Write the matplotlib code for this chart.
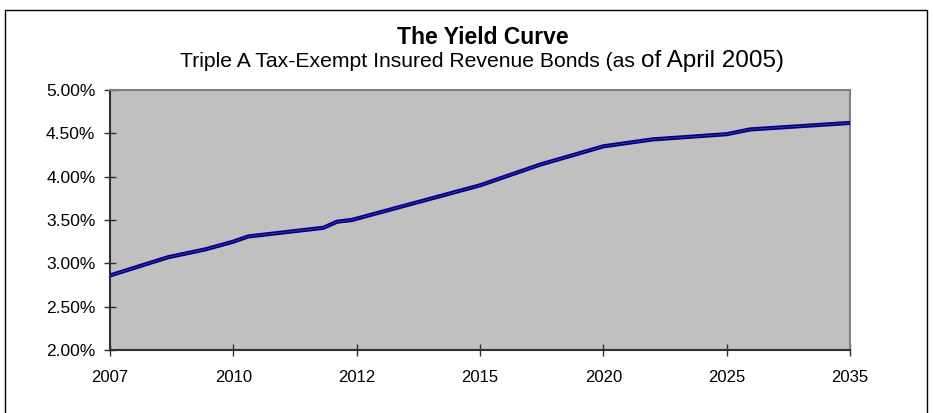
import matplotlib
matplotlib.use("Agg")
import matplotlib.pyplot as plt
from matplotlib.patches import Rectangle
from matplotlib.ticker import FuncFormatter

plt.rcParams['font.family'] = ['Liberation Sans', 'DejaVu Sans']

# Category labels on the x axis
categories = ["2007", "2010", "2012", "2015", "2020", "2025", "2035"]
# Curve points: position along the category axis (category index) and yield (%)
curve_pos = [0.0, 0.47, 0.77, 1.0, 1.12, 1.73, 1.84, 1.96, 3.0, 3.49, 4.0, 4.40, 5.0, 5.19, 6.0]
curve_yield = [2.86, 3.07, 3.16, 3.25, 3.31, 3.41, 3.48, 3.50, 3.90, 4.14, 4.35, 4.43, 4.49, 4.545, 4.62]
y_ticks = [2.0, 2.5, 3.0, 3.5, 4.0, 4.5, 5.0]

title = "The Yield Curve"
subtitle_a = "Triple A Tax-Exempt Insured Revenue Bonds (as "
subtitle_b = "of April 2005)"

W, H = 933, 413
fig = plt.figure(figsize=(W / 100, H / 100), dpi=100)
fig.patch.set_facecolor('white')

# outer chart border
fig.patches.append(Rectangle((5 / W, -0.05), 922 / W, (H - 10) / H + 0.05, transform=fig.transFigure,
                             fill=False, edgecolor='black', linewidth=1.0))

left, right, top, bottom = 110, 850, 90, 350
ax = fig.add_axes([left / W, 1 - bottom / H, (right - left) / W, (bottom - top) / H])
ax.set_facecolor('#C0C0C0')

ax.plot(curve_pos, curve_yield, color='#000080', linewidth=3.0, solid_joinstyle='round',
        solid_capstyle='butt', zorder=3)
ax.plot(curve_pos, curve_yield, color='#3a3aa8', linewidth=0.6, zorder=4)

ax.set_xlim(0, len(categories) - 1)
ax.set_ylim(2.0, 5.0)
ax.set_xticks(range(len(categories)))
ax.set_xticklabels(categories)
ax.set_yticks(y_ticks)
ax.yaxis.set_major_formatter(FuncFormatter(lambda v, p: f"{v:.2f}%"))

for s in ['top', 'right']:
    ax.spines[s].set_color('#808080')
    ax.spines[s].set_linewidth(1.5)
for s in ['left', 'bottom']:
    ax.spines[s].set_color('#303030')
    ax.spines[s].set_linewidth(1.5)

ax.tick_params(axis='y', direction='inout', length=9, width=1, color='#303030',
               labelsize=12.5, pad=6)
ax.tick_params(axis='x', direction='inout', length=9, width=1, color='#303030',
               labelsize=12, pad=10)

fig.text(483 / W, 1 - 38 / H, title, ha='center', va='center', fontsize=16.5, fontweight='bold')

# subtitle drawn in two runs (the date part is set in a larger size)
ta = fig.text(0, 0, subtitle_a, ha='left', va='baseline', fontsize=15.2)
tb = fig.text(0, 0, subtitle_b, ha='left', va='baseline', fontsize=17.5)
fig.canvas.draw()
r = fig.canvas.get_renderer()
wa = ta.get_window_extent(r).width
wb = tb.get_window_extent(r).width
x0 = 482 - (wa + wb) / 2
base_y = 1 - 67 / H
ta.set_position((x0 / W, base_y))
tb.set_position(((x0 + wa) / W, base_y))

fig.savefig('out.png', dpi=100)
